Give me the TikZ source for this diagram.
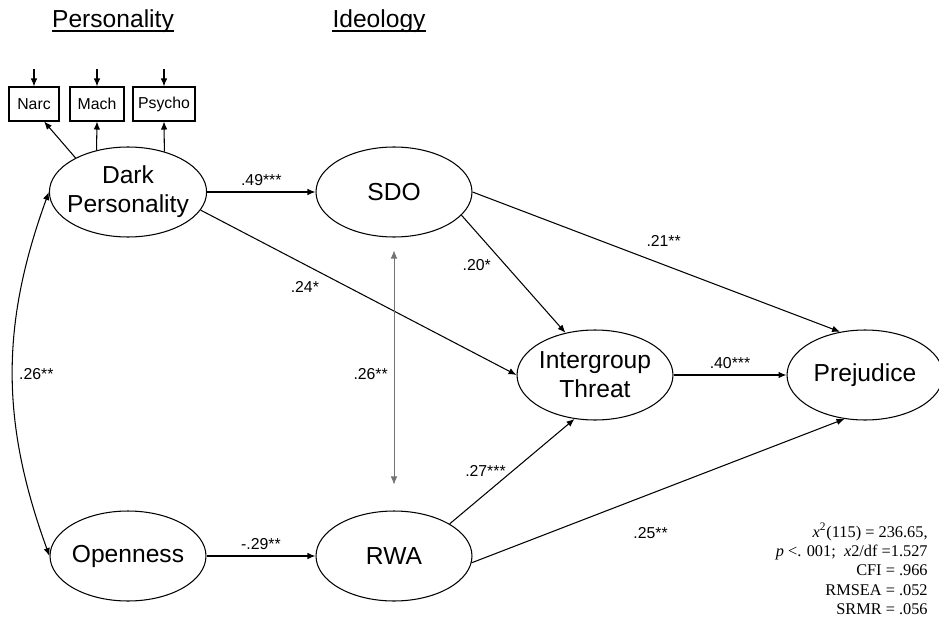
\documentclass[tikz,border=0pt]{standalone}
\usepackage{fontspec}
\setmainfont{Liberation Sans}
\newfontfamily\fitfont{Liberation Serif}
\usepackage{tikz}
\usetikzlibrary{shapes.geometric}
\usetikzlibrary{positioning}
\usetikzlibrary{arrows.meta}

\tikzset{
  latent/.style={draw, ellipse, line width=.6pt, minimum width=3.12cm, minimum height=1.8cm, inner xsep=-3pt, inner ysep=0pt, align=center, font=\fontsize{14}{16.5}\selectfont},
  indicator/.style={draw, rectangle, line width=.6pt, minimum height=.68cm, inner sep=0pt, font=\fontsize{9}{11}\selectfont},
  header/.style={inner sep=0pt, anchor=base, font=\fontsize{14}{16}\selectfont},
  coef/.style={font=\fontsize{9}{11}\selectfont},
  effect/.style={->, line width=.6pt},
  covar/.style={<->, line width=.6pt},
  faint/.style={<->, line width=.4pt, draw=black!55, shorten <=.26cm, shorten >=.52cm}
}

\begin{document}
\begin{tikzpicture}[x=.02cm, y=.02cm, >={Latex[length=1.6mm, width=1.3mm]}]
     \useasboundingbox (0,0) rectangle (939,-618);
     \node[header] (pers) at (113,-28) {Personality};
     \node[header] (ideo) at (379,-28) {Ideology};
     \draw[line width=1pt] ([yshift=-1.8pt]pers.base west) -- ([yshift=-1.8pt]pers.base east);
     \draw[line width=1pt] ([yshift=-1.8pt]ideo.base west) -- ([yshift=-1.8pt]ideo.base east);

     \node[indicator, minimum width=1cm]    (narc)   at ( 34,-104) {Narc};
     \node[indicator, minimum width=1.08cm] (mach)   at ( 97,-104) {Mach};
     \node[indicator, minimum width=1.24cm] (psycho) at (164,-104) {Psycho};

     \node[latent] (dark)   at (128,-192) {Dark\\Personality};
     \node[latent] (sdo)    at (394,-192) {SDO};
     \node[latent] (threat) at (595,-375) {Intergroup\\Threat};
     \node[latent] (prej)   at (865,-375) {Prejudice};
     \node[latent] (open)   at (128,-556) {Openness};
     \node[latent] (rwa)    at (394,-556) {RWA};

     \foreach \b in {narc, mach, psycho}
       \draw[effect] ([yshift=.34cm]\b.north) -- (\b.north);
     \draw[effect] (dark.147) -- (narc.-60);
     \draw[effect] (dark.127) -- (mach.south);
     \draw[effect] (dark.48) -- (psycho.south);

     \draw[effect] (dark.east) -- (sdo.west) node[coef, midway, above] {.49***};
     \draw[effect] (dark.-14) -- (threat.west) node[coef, pos=.33, below=.22cm] {.24*};
     \draw[effect] (sdo.-19) -- (threat.125) node[coef, pos=.42, left=.16cm] {.20*};
     \draw[effect] (sdo.east) -- (prej.120) node[coef, pos=.52, above=.24cm] {.21**};
     \draw[effect] (threat.east) -- (prej.west) node[coef, midway, above] {.40***};
     \draw[effect] (rwa.30) -- (threat.245) node[coef, pos=.5, left] {.27***};
     \draw[effect] (rwa.-5) -- (prej.245) node[coef, pos=.48, below=.54cm] {.25**};
     \draw[effect] (open.east) -- (rwa.west) node[coef, midway, above] {-.29**};

     \draw[covar] (dark.west) to[out=250, in=110] node[coef, midway, right] {.26**} (open.west);
     \draw[faint] (sdo.south) -- (rwa.north) node[coef, midway, left] {.26**};

     \node[align=right, anchor=north east, inner sep=0pt, font=\fitfont\fontsize{9.3}{10.9}\selectfont] (fit) at (928,-523)
       {\textit{x}\textsuperscript{2}(115) = 236.65,\\
        \textit{p} <. 001;\ \ \textit{x}2/df =1.527\\
        CFI = .966\\
        RMSEA = .052\\
        SRMR = .056};
   \end{tikzpicture}
\end{document}
